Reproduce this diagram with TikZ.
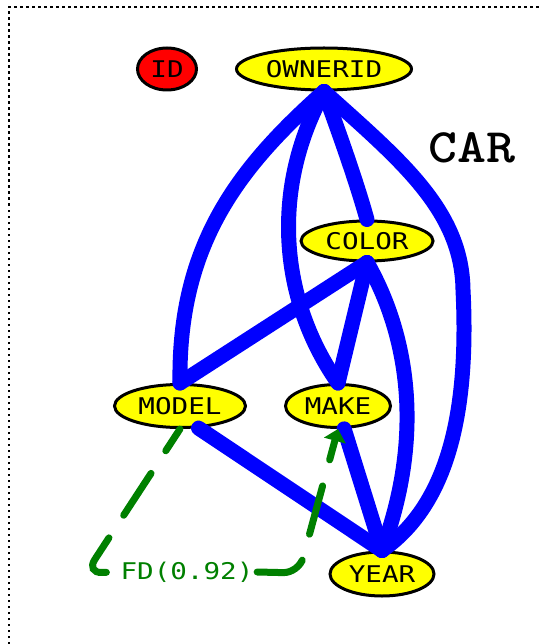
\documentclass[tikz,border=0pt]{standalone}
\usepackage{fontspec}
\usetikzlibrary{shapes.geometric,arrows.meta}
\newfontfamily\lblfont[FakeStretch=1.2]{DejaVu Sans Mono}
\newfontfamily\titlefont[FakeStretch=1.15]{lmmonolt10-bold.otf}
\definecolor{attrfill}{RGB}{255,255,0}
\definecolor{keyfill}{RGB}{255,0,0}
\definecolor{depblue}{RGB}{0,0,255}
\definecolor{fdgreen}{RGB}{0,128,0}
\tikzset{
  attr/.style={ellipse, draw=black, line width=3pt, fill=attrfill, inner sep=0pt,
    font=\lblfont\fontsize{23}{23}\selectfont},
  keyattr/.style={attr, fill=keyfill},
  dep/.style={draw=depblue, line width=15pt, line cap=round},
  fdline/.style={draw=fdgreen, line width=7pt, line cap=round, rounded corners=16pt,
    dash pattern=on 50pt off 27pt},
  fdlabel/.style={text=fdgreen, inner sep=3.5pt, font=\lblfont\fontsize{23}{23}\selectfont},
  frame/.style={draw=black, line width=2.5pt, dash pattern=on 2.5pt off 3.5pt}
}
\begin{document}
\begin{tikzpicture}[x=1pt, y=-1pt]
  \useasboundingbox (0,0) rectangle (541,644);
  \fill[white] (0,0) rectangle (541,644);
  % outer frame (dotted)
  \draw[frame] (9,644) -- (9,7) -- (541,7);

  % attribute nodes
  \node[keyattr, minimum width=59pt, minimum height=42pt] (id) at (167,69) {ID};
  \node[attr, minimum width=175pt, minimum height=42pt] (own) at (324,69) {OWNERID};
  \node[attr, minimum width=132pt, minimum height=40pt] (color) at (367,241) {COLOR};
  \node[attr, minimum width=131pt, minimum height=43pt] (model) at (180,406) {MODEL};
  \node[attr, minimum width=105pt, minimum height=43pt] (make) at (338,406) {MAKE};
  \node[attr, minimum width=104pt, minimum height=44pt] (year) at (382,574) {YEAR};

  % relation title
  \node[font=\titlefont\fontsize{48}{48}\selectfont] (title) at (472,148) {CAR};

  % dependency edges
  \draw[dep] (own.south) .. controls (238,168) and (178,245) .. (model.north);
  \draw[dep] (own.south) .. controls (270,190) and (280,300) .. (make.north);
  \draw[dep] (own.south) .. controls (338,130) and (356,180) .. (color.north);
  \draw[dep] (own.south) .. controls (400,160) and (462,210) .. (463,290)
                         .. controls (470,430) and (440,510) .. (year.north);
  \draw[dep] (color.south) -- (model.north);
  \draw[dep] (color.south) -- (make.north);
  \draw[dep] (color.south) .. controls (400,320) and (430,420) .. (year.north);
  \draw[dep] (model.-50) -- (year.north);
  \draw[dep] (make.-75) -- (year.north);

  % functional dependency MODEL -> MAKE
  \node[fdlabel] (fd) at (187,572) {FD(0.92)};
  \draw[fdline, dash phase=24pt] (model.south) -- (86,573) -- (fd.west);
  \draw[fdline, -{Triangle[width=22pt,length=12pt]}] (fd.east) -- (299,573) -- (make.south);
\end{tikzpicture}
\end{document}
